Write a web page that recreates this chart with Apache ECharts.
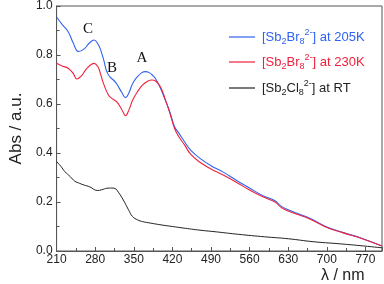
<!DOCTYPE html>
<html>
<head>
<meta charset="utf-8">
<script src="https://cdn.jsdelivr.net/npm/echarts@6/dist/echarts.min.js"></script>
<style>
  html, body { margin: 0; padding: 0; background: #fff; }
  #chart { width: 384px; height: 284px; }
</style>
</head>
<body>
<div id="chart"></div>
<script>
// absorbance spectra
var blueX = [210,220,231,240,250,260,270,278,285,290,296,301,307,313,318,322,328,335,341,348,356,364,371,378,385,389,396,402,407,415,424,432,442,453,470,490,512,535,559,585,606,617,630,646,670,699,730,763,800];
var blueY = [0.955,0.925,0.895,0.85,0.814,0.825,0.85,0.861,0.845,0.82,0.775,0.732,0.71,0.698,0.685,0.671,0.648,0.626,0.645,0.684,0.71,0.727,0.732,0.728,0.715,0.705,0.675,0.645,0.616,0.57,0.507,0.48,0.446,0.412,0.378,0.348,0.322,0.29,0.258,0.225,0.205,0.183,0.168,0.154,0.133,0.099,0.075,0.052,0.02];

var redX = [210,220,231,240,247,255,265,278,285,290,295,304,312,319,325,331,335,341,348,356,366,375,383,390,398,407,415,424,432,442,453,470,490,512,535,559,585,606,617,630,646,670,699,730,763,800];
var redY = [0.766,0.755,0.746,0.725,0.702,0.715,0.745,0.766,0.752,0.72,0.684,0.637,0.62,0.609,0.59,0.565,0.552,0.575,0.616,0.648,0.678,0.693,0.698,0.693,0.671,0.62,0.565,0.5,0.465,0.433,0.395,0.362,0.335,0.31,0.282,0.25,0.22,0.2,0.178,0.163,0.15,0.13,0.097,0.074,0.051,0.02];

var blackX = [210,218,225,235,243,252,260,270,284,292,301,310,316,322,331,340,348,357,366,380,401,420,439,470,500,540,587,630,675,720,760,800];
var blackY = [0.365,0.345,0.324,0.303,0.285,0.276,0.269,0.262,0.247,0.25,0.256,0.257,0.255,0.24,0.208,0.17,0.14,0.127,0.12,0.114,0.106,0.1,0.094,0.085,0.078,0.068,0.058,0.05,0.038,0.03,0.022,0.013];

var xTicks = {min: 210, max: 800, step: 70};
var yTicks = {min: 0, max: 1, step: 0.2};

var peakLabels = ['C', 'B', 'A'];

function pairs(xs, ys) {
    return xs.map(function (x, i) { return [x, ys[i]]; });
}

var font = '"Liberation Sans", Arial, sans-serif';
var serif = '"Liberation Serif", "Times New Roman", serif';
var rich = {
    n: {fontSize: 13, fontFamily: font, lineHeight: 20, verticalAlign: 'middle'},
    sub: {fontSize: 9, fontFamily: font, lineHeight: 20, padding: [9, 0, 0, 0]},
    sup: {fontSize: 9, fontFamily: font, lineHeight: 20, padding: [0, 0, 9, 0]}
};
function richFor(color) {
    var r = {};
    Object.keys(rich).forEach(function (k) {
        r[k] = Object.assign({}, rich[k], {color: color});
    });
    return r;
}

var legendDefs = [
    {name: '205K', top: 23, color: '#2f63f0', fmt: '{n|[Sb}{sub|2}{n|Br}{sub|8}{sup|2-}{n|] at 205K}'},
    {name: '230K', top: 48, color: '#f0203c', fmt: '{n|[Sb}{sub|2}{n|Br}{sub|8}{sup|2-}{n|] at 230K}'},
    {name: 'RT', top: 74, color: '#222222', fmt: '{n|[Sb}{sub|2}{n|Cl}{sub|8}{sup|2-}{n|] at RT}'}
];

var chart = echarts.init(document.getElementById('chart'));
chart.setOption({
    animation: false,
    grid: {left: 48, right: 2, top: 5, bottom: 33, show: true, borderColor: '#555', borderWidth: 1},
    legend: legendDefs.map(function (d) {
        return {
            data: [d.name],
            left: 224,
            top: d.top,
            icon: 'rect',
            itemWidth: 26,
            itemHeight: 1.2,
            itemGap: 0,
            formatter: function () { return d.fmt; },
            textStyle: {rich: richFor(d.color), padding: [0, 0, 0, 2]}
        };
    }),
    xAxis: {
        type: 'value',
        min: xTicks.min,
        max: xTicks.max,
        interval: xTicks.step,
        axisLine: {lineStyle: {color: '#555'}},
        axisTick: {inside: true, length: 4, lineStyle: {color: '#555'}},
        minorTick: {show: true, splitNumber: 2, length: 3, lineStyle: {color: '#555'}},
        splitLine: {show: false},
        axisLabel: {color: '#222', fontSize: 12, fontFamily: font, margin: 3,
            showMaxLabel: false}
    },
    yAxis: {
        type: 'value',
        min: yTicks.min,
        max: yTicks.max,
        interval: yTicks.step,
        name: 'Abs / a.u.',
        nameLocation: 'middle',
        nameGap: 29,
        nameTextStyle: {fontSize: 17, fontFamily: font, color: '#222'},
        axisLine: {lineStyle: {color: '#555'}},
        axisTick: {inside: true, length: 4, lineStyle: {color: '#555'}},
        minorTick: {show: true, splitNumber: 2, length: 3, lineStyle: {color: '#555'}},
        splitLine: {show: false},
        axisLabel: {color: '#222', fontSize: 12, fontFamily: font, margin: 4,
            formatter: function (v) { return v.toFixed(1); }}
    },
    graphic: [
        {type: 'text', left: 321, top: 268, style: {text: 'λ / nm', fontSize: 16, fontFamily: font, fill: '#222'}},
        {type: 'text', x: 88, y: 29, style: {text: peakLabels[0], fontSize: 15, fontFamily: serif, fill: '#111', align: 'center', verticalAlign: 'middle'}},
        {type: 'text', x: 112, y: 68, style: {text: peakLabels[1], fontSize: 15, fontFamily: serif, fill: '#111', align: 'center', verticalAlign: 'middle'}},
        {type: 'text', x: 142, y: 58, style: {text: peakLabels[2], fontSize: 15, fontFamily: serif, fill: '#111', align: 'center', verticalAlign: 'middle'}}
    ],
    series: [
        {name: '205K', type: 'line', data: pairs(blueX, blueY), smooth: 0.45, showSymbol: false,
            lineStyle: {color: '#2f63f0', width: 1.1}, itemStyle: {color: '#2f63f0'}},
        {name: '230K', type: 'line', data: pairs(redX, redY), smooth: 0.45, showSymbol: false,
            lineStyle: {color: '#f0203c', width: 1.1}, itemStyle: {color: '#f0203c'}},
        {name: 'RT', type: 'line', data: pairs(blackX, blackY), smooth: 0.45, showSymbol: false,
            lineStyle: {color: '#222', width: 1}, itemStyle: {color: '#222'}}
    ]
});
</script>
</body>
</html>
